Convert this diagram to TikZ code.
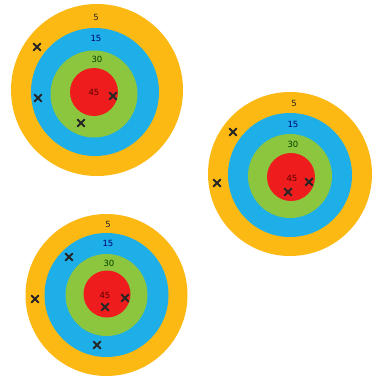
\documentclass[tikz,border=0pt]{standalone}
\usepackage{fontspec}
\setmainfont{DejaVu Sans}
\definecolor{ringY}{HTML}{FDB913}
\definecolor{ringB}{HTML}{1EAEE8}
\definecolor{ringG}{HTML}{8CC63F}
\definecolor{ringR}{HTML}{EE1C1C}
\tikzset{
  lbl/.style={font=\fontsize{8.5}{9}\selectfont, inner sep=0pt},
  hit/.style={line width=1.8pt, line cap=round, black!85},
}
\newcommand{\hitmark}[2]{\draw[hit] (#1-3.4,#2-3.4) -- (#1+3.4,#2+3.4) (#1-3.4,#2+3.4) -- (#1+3.4,#2-3.4);}
\begin{document}
\begin{tikzpicture}[x=1pt,y=-1pt]
\useasboundingbox[fill=white] (0,0) rectangle (373,381);
% target 1
\fill[ringY] (97,90) circle (86);
\fill[ringB] (95,92) circle (64);
\fill[ringG] (94,94) circle (43.5);
\fill[ringR] (94,92) circle (24);
\node[lbl, text=black!85] (a5) at (96,17) {5};
\node[lbl, text=blue!45!black] (a15) at (96,38) {15};
\node[lbl, text=green!25!black] (a30) at (97,59) {30};
\node[lbl, text=red!35!black] (a45) at (94,92) {45};
\hitmark{37}{47}
\hitmark{38}{98}
\hitmark{81}{123}
\hitmark{113}{96}
% target 2
\fill[ringY] (290,174) circle (82);
\fill[ringB] (290,175) circle (62);
\fill[ringG] (290,176) circle (42);
\fill[ringR] (291,177) circle (24);
\node[lbl, text=black!85] (b5) at (294,103) {5};
\node[lbl, text=blue!45!black] (b15) at (293,124) {15};
\node[lbl, text=green!25!black] (b30) at (293,144) {30};
\node[lbl, text=red!35!black] (b45) at (292,178) {45};
\hitmark{233}{132}
\hitmark{217}{183}
\hitmark{288}{192}
\hitmark{309}{182}
% target 3
\fill[ringY] (106.5,295) circle (81);
\fill[ringB] (106.5,295) circle (62);
\fill[ringG] (106.5,295) circle (41);
\fill[ringR] (107,294) circle (23.5);
\node[lbl, text=black!85] (c5) at (108,224) {5};
\node[lbl, text=blue!45!black] (c15) at (108,243) {15};
\node[lbl, text=green!25!black] (c30) at (109,263) {30};
\node[lbl, text=red!35!black] (c45) at (105,295) {45};
\hitmark{69}{257}
\hitmark{35}{299}
\hitmark{97}{345}
\hitmark{105}{307}
\hitmark{125}{298}
\end{tikzpicture}
\end{document}
